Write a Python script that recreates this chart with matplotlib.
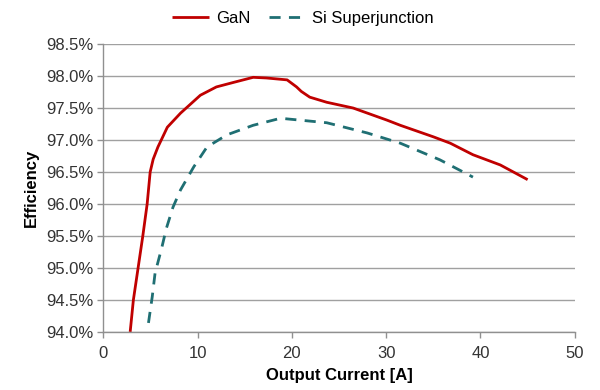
import matplotlib
matplotlib.use("Agg")
import matplotlib.pyplot as plt
from matplotlib.ticker import FuncFormatter

plt.rcParams['font.family'] = ['Liberation Sans', 'DejaVu Sans']

gan_x = [2.86, 3.2, 3.7, 4.2, 4.66, 4.98, 5.3, 5.8, 6.8, 8.2, 10.3, 12.0, 13.8, 15.9, 17.3,
         19.5, 20.5, 21.0, 21.9, 23.7, 26.5, 30.1, 31.5, 35.0, 36.8, 39.2, 42.1, 45.0]
gan_y = [94.0, 94.5, 95.0, 95.5, 96.0, 96.5, 96.7, 96.89, 97.2, 97.42, 97.70, 97.83, 97.9, 97.98, 97.97,
         97.94, 97.83, 97.76, 97.67, 97.59, 97.5, 97.31, 97.23, 97.05, 96.95, 96.77, 96.61, 96.38]

si_x = [4.8, 5.2, 5.5, 6.2, 6.7, 7.4, 8.2, 9.6, 11.0, 13.1, 15.9, 18.8, 20.9, 23.7, 28.0, 31.5, 35.7, 39.2]
si_y = [94.14, 94.55, 94.92, 95.31, 95.62, 95.95, 96.22, 96.58, 96.89, 97.08, 97.23, 97.34, 97.31,
        97.27, 97.11, 96.95, 96.69, 96.42]

x_ticks = [0, 10, 20, 30, 40, 50]
y_ticks = [94.0, 94.5, 95.0, 95.5, 96.0, 96.5, 97.0, 97.5, 98.0, 98.5]

fig = plt.figure(figsize=(6, 3.9), dpi=100)
ax = fig.add_axes([0.172, 0.149, 0.786, 0.738])

ax.plot(gan_x, gan_y, color='#C00000', lw=2.0, label='GaN', solid_capstyle='butt')
ax.plot(si_x, si_y, color='#1F6F73', lw=2.0, dashes=(4, 3), label='Si Superjunction')

ax.set_xlim(0, 50)
ax.set_ylim(94.0, 98.5)
ax.set_xticks(x_ticks)
ax.set_yticks(y_ticks)
ax.yaxis.set_major_formatter(FuncFormatter(lambda v, p: f"{v:.1f}%"))
ax.grid(axis='y', color='#A0A0A0', lw=1.0)
ax.set_axisbelow(True)
for s in ['top', 'right']:
    ax.spines[s].set_visible(False)
for s in ['left', 'bottom']:
    ax.spines[s].set_color('#909090')
    ax.spines[s].set_linewidth(1.0)
ax.tick_params(axis='both', colors='#909090', labelcolor='#333333', labelsize=12, length=4, width=1)
ax.tick_params(axis='x', pad=6)
ax.tick_params(axis='y', pad=3)
ax.set_xlabel('Output Current [A]', fontsize=12, fontweight='bold', labelpad=5)
ax.set_ylabel('Efficiency', fontsize=12, fontweight='bold', labelpad=5)

leg = fig.legend(loc='upper center', bbox_to_anchor=(0.505, 1.01), ncol=2, frameon=False,
                 fontsize=12, handlelength=2.2, columnspacing=1.1, handletextpad=0.4)

fig.savefig('out.png', dpi=100)
